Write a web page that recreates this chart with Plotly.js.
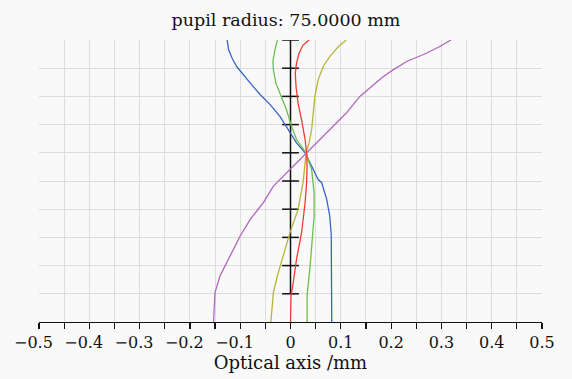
<!DOCTYPE html>
<html>
<head>
<meta charset="utf-8">
<script src="https://cdn.plot.ly/plotly-3.0.1.min.js"></script>
<style>html,body{margin:0;padding:0;background:#f9f9f9;}#chart{width:572px;height:379px;}</style>
</head>
<body>
<div id="chart"></div>
<script>
// Normalized pupil coordinate (y) vs longitudinal aberration in mm (x)
const blueY   = [0, 0.10, 0.20, 0.311, 0.376, 0.435, 0.494, 0.505, 0.564, 0.600, 0.635, 0.682, 0.729, 0.770, 0.806, 0.841, 0.876, 0.906, 0.935, 0.965, 1.0];
const blueX   = [0.082, 0.082, 0.082, 0.081, 0.078, 0.072, 0.062, 0.055, 0.039, 0.029, 0.012, -0.004, -0.021, -0.040, -0.060, -0.077, -0.093, -0.107, -0.116, -0.123, -0.126];

const greenY  = [0, 0.093, 0.199, 0.293, 0.376, 0.458, 0.541, 0.576, 0.600, 0.647, 0.694, 0.753, 0.800, 0.847, 0.894, 0.923, 0.965, 1.0];
const greenX  = [0.033, 0.033, 0.039, 0.044, 0.047, 0.047, 0.042, 0.035, 0.031, 0.012, 0.002, -0.008, -0.019, -0.029, -0.034, -0.035, -0.031, -0.026];

const redY    = [0, 0.093, 0.140, 0.223, 0.317, 0.423, 0.494, 0.552, 0.600, 0.647, 0.717, 0.776, 0.835, 0.882, 0.918, 0.953, 0.982, 1.0];
const redX    = [0, 0.001, 0.0055, 0.012, 0.022, 0.029, 0.032, 0.033, 0.032, 0.029, 0.022, 0.015, 0.011, 0.0095, 0.012, 0.017, 0.025, 0.037];

const yellowY = [0, 0.105, 0.164, 0.234, 0.317, 0.399, 0.494, 0.600, 0.635, 0.682, 0.741, 0.800, 0.859, 0.906, 0.941, 0.976, 1.0];
const yellowX = [-0.039, -0.034, -0.026, -0.014, -0.001, 0.015, 0.025, 0.031, 0.037, 0.042, 0.045, 0.0485, 0.055, 0.065, 0.078, 0.095, 0.111];

const purpleY = [0, 0.105, 0.164, 0.234, 0.305, 0.364, 0.423, 0.482, 0.541, 0.600, 0.635, 0.682, 0.741, 0.800, 0.841, 0.870, 0.894, 0.923, 0.953, 0.976, 1.0];
const purpleX = [-0.153, -0.150, -0.140, -0.120, -0.100, -0.080, -0.054, -0.034, -0.001, 0.031, 0.052, 0.078, 0.111, 0.138, 0.164, 0.184, 0.204, 0.230, 0.270, 0.296, 0.319];

// central optical-axis marker ticks
const axisTickY = [0.1, 0.2, 0.3, 0.4, 0.5, 0.6, 0.7, 0.8, 0.9, 1.0];
const axisLineY = [0.1, 1.0];

// x axis ticks (every 0.05, labelled every 0.1)
const xTickVals = [-0.5, -0.45, -0.4, -0.35, -0.3, -0.25, -0.2, -0.15, -0.1, -0.05, 0, 0.05, 0.1, 0.15, 0.2, 0.25, 0.3, 0.35, 0.4, 0.45, 0.5];
const pad = '\u2002\u2009';
const xTickText = ['\u22120.5'+pad, '', '\u22120.4'+pad, '', '\u22120.3'+pad, '', '\u22120.2'+pad, '', '\u22120.1'+pad, '', '0', '', '0.1', '', '0.2', '', '0.3', '', '0.4', '', '0.5'];

const serif = 'DejaVu Serif, serif';
const lw = 1.3;
function curve(x, y, color) {
  return {x: x, y: y, type: 'scatter', mode: 'lines', line: {color: color, width: lw}, hoverinfo: 'skip', showlegend: false};
}

const traces = [
  {x: [0, 0], y: axisLineY, type: 'scatter', mode: 'lines', line: {color: '#111', width: 1.5}, showlegend: false, hoverinfo: 'skip'},
  {x: axisTickY.map(() => 0), y: axisTickY, type: 'scatter', mode: 'markers',
   marker: {symbol: 'line-ew', size: 12, color: '#111', line: {color: '#111', width: 1.5}}, showlegend: false, hoverinfo: 'skip'},
  curve(blueX, blueY, '#3a64c4'),
  curve(greenX, greenY, '#6cbf4a'),
  curve(yellowX, yellowY, '#b8b43c'),
  curve(purpleX, purpleY, '#b066c0'),
  curve(redX, redY, '#f03c32')
];

const layout = {
  width: 572, height: 379,
  margin: {l: 39, r: 30, t: 40, b: 56.5, pad: 0},
  paper_bgcolor: '#f9f9f9', plot_bgcolor: '#f9f9f9',
  font: {family: serif, color: '#111'},
  title: {text: 'pupil radius: 75.0000 mm', font: {family: serif, size: 17.5, color: '#111'},
          x: 0.5, xref: 'container', xanchor: 'center', y: 1 - 20/379, yref: 'container', yanchor: 'middle'},
  xaxis: {
    range: [-0.5, 0.5], tickmode: 'array', tickvals: xTickVals, ticktext: xTickText, tickangle: 0,
    ticks: 'outside', ticklen: 6, tickwidth: 1.2, tickcolor: '#111',
    showline: true, linecolor: '#111', linewidth: 1.2,
    showgrid: true, gridcolor: '#dddddd', gridwidth: 1, zeroline: false,
    tickfont: {family: serif, size: 16, color: '#111'},
    title: {text: 'Optical axis /mm', font: {family: serif, size: 18, color: '#111'}, standoff: 4},
    automargin: false, fixedrange: true
  },
  yaxis: {
    range: [0, 1], tick0: 0, dtick: 0.1, showticklabels: false, ticks: '',
    showgrid: true, gridcolor: '#dddddd', gridwidth: 1, zeroline: false, showline: false,
    automargin: false, fixedrange: true
  },
  showlegend: false
};

Plotly.newPlot('chart', traces, layout, {displayModeBar: false, staticPlot: true});
</script>
</body>
</html>
